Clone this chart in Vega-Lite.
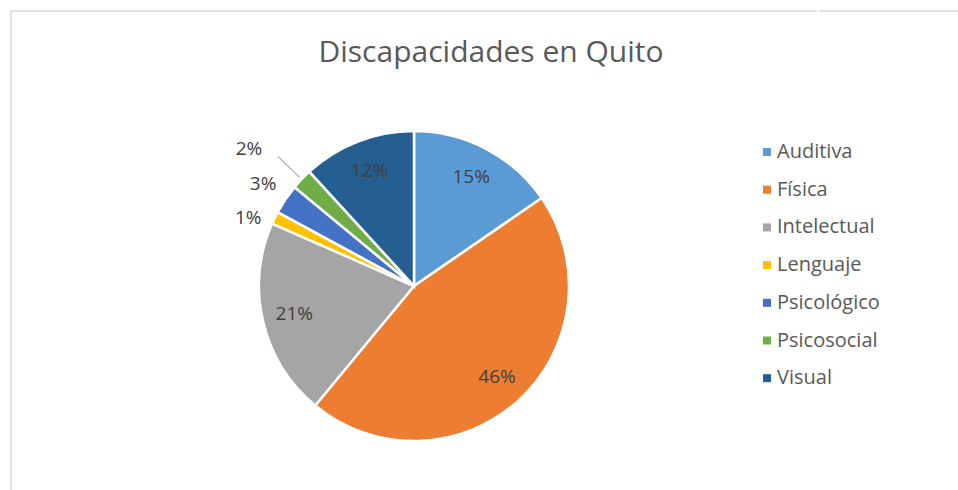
{
  "$schema": "https://vega.github.io/schema/vega-lite/v6.json",
  "padding": {"left": 10, "top": 10, "right": 0, "bottom": 0},
  "background": "white",
  "spacing": 0,
  "config": {"font": "Open Sans"},
  "hconcat": [
    {
      "width": 806,
      "height": 550,
      "view": {"stroke": "#d9d9d9", "strokeWidth": 1.5, "strokeDash": [806, 1356, 550, 0]},
      "title": {"text": "Discapacidades en Quito", "font": "Open Sans", "fontSize": 30, "fontWeight": "normal", "color": "#595959", "anchor": "middle", "frame": "group", "dx": 77, "offset": -57},
      "data": {"values": [
        {"cat": "Auditiva", "share": 0.154},
        {"cat": "Física", "share": 0.456},
        {"cat": "Intelectual", "share": 0.206},
        {"cat": "Lenguaje", "share": 0.013},
        {"cat": "Psicológico", "share": 0.031},
        {"cat": "Psicosocial", "share": 0.022},
        {"cat": "Visual", "share": 0.118}
      ]},
      "transform": [
        {"stack": "share", "groupby": [], "as": ["s0", "s1"], "sort": [{"field": "cat", "order": "ascending"}]},
        {"calculate": "(datum.s0 + datum.s1) / 2", "as": "mid"}
      ],
      "layer": [
        {
          "mark": {"type": "arc", "outerRadius": 155, "stroke": "white", "strokeWidth": 2.5},
          "encoding": {
            "theta": {"field": "s0", "type": "quantitative", "scale": {"domain": [0, 1]}},
            "theta2": {"field": "s1"},
            "color": {
              "field": "cat", "type": "nominal",
              "scale": {
                "domain": ["Auditiva", "Física", "Intelectual", "Lenguaje", "Psicológico", "Psicosocial", "Visual"],
                "range": ["#5B9BD5", "#ED7D31", "#A5A5A5", "#FFC000", "#4472C4", "#70AD47", "#255E91"]
              },
              "legend": {
                "orient": "none", "legendX": 746, "legendY": 131, "title": null,
                "symbolType": "square", "symbolSize": 64, "symbolStrokeWidth": 0,
                "labelFontSize": 20, "labelFont": "Open Sans", "labelColor": "#595959",
                "rowPadding": 17.7, "labelOffset": 0, "padding": 0
              }
            }
          }
        },
        {
          "transform": [{"filter": "datum.cat === 'Psicosocial'"}],
          "mark": {"type": "arc", "radius": 188, "radius2": 158, "thetaOffset": 0.066, "theta2Offset": -0.066, "fill": "#a6a6a6", "strokeWidth": 0},
          "encoding": {
            "theta": {"field": "s0", "type": "quantitative", "scale": {"domain": [0, 1]}},
            "theta2": {"field": "s1"}
          }
        },
        {
          "transform": [{"filter": "datum.share >= 0.1"}],
          "mark": {"type": "text", "radius": 123, "fontSize": 19, "font": "Open Sans", "color": "#404040"},
          "encoding": {
            "theta": {"field": "mid", "type": "quantitative", "scale": {"domain": [0, 1]}},
            "text": {"field": "share", "type": "quantitative", "format": ".0%"}
          }
        },
        {
          "transform": [{"filter": "datum.cat === 'Psicológico'"}],
          "mark": {"type": "text", "radius": 182, "fontSize": 19, "font": "Open Sans", "color": "#404040"},
          "encoding": {
            "theta": {"field": "mid", "type": "quantitative", "scale": {"domain": [0, 1]}},
            "text": {"field": "share", "type": "quantitative", "format": ".0%"}
          }
        },
        {
          "transform": [{"filter": "datum.cat === 'Lenguaje'"}],
          "mark": {"type": "text", "radius": 179, "dx": -5, "dy": 11, "fontSize": 19, "font": "Open Sans", "color": "#404040"},
          "encoding": {
            "theta": {"field": "mid", "type": "quantitative", "scale": {"domain": [0, 1]}},
            "text": {"field": "share", "type": "quantitative", "format": ".0%"}
          }
        },
        {
          "transform": [{"filter": "datum.cat === 'Psicosocial'"}],
          "mark": {"type": "text", "radius": 214, "dx": -10, "dy": 10, "fontSize": 19, "font": "Open Sans", "color": "#404040"},
          "encoding": {
            "theta": {"field": "mid", "type": "quantitative", "scale": {"domain": [0, 1]}},
            "text": {"field": "share", "type": "quantitative", "format": ".0%"}
          }
        }
      ]
    },
    {
      "width": 200,
      "height": 550,
      "view": {"stroke": "#d9d9d9", "strokeWidth": 1.5, "strokeDash": [200, 10000]},
      "data": {"values": [{"t": ""}]},
      "mark": {"type": "text"},
      "encoding": {"text": {"field": "t", "type": "nominal"}}
    }
  ]
}
